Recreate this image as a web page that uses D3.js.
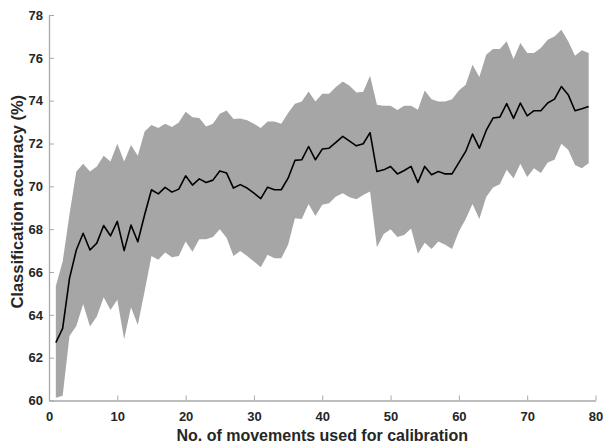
<!DOCTYPE html>
<html>
<head>
<meta charset="utf-8">
<script src="https://cdn.jsdelivr.net/npm/d3@7"></script>
<style>
  body { margin: 0; background: #fff; }
  svg { display: block; font-family: "Liberation Sans", Arial, sans-serif; }
</style>
</head>
<body>
<div id="chart"></div>
<script>
// number of movements used for calibration: 1..79
var movements = d3.range(1, 80);

// mean accuracy (%)
var meanAcc = [
  62.70, 63.37, 65.70, 67.03, 67.81, 67.03, 67.35, 68.17, 67.69, 68.36,
  67.00, 68.19, 67.41, 68.67, 69.84, 69.65, 69.95, 69.73, 69.87, 70.49,
  70.06, 70.35, 70.18, 70.29, 70.72, 70.62, 69.92, 70.08, 69.92, 69.68,
  69.43, 69.96, 69.84, 69.84, 70.38, 71.21, 71.24, 71.86, 71.24, 71.74,
  71.78, 72.05, 72.33, 72.11, 71.89, 71.99, 72.51, 70.69, 70.77, 70.93,
  70.58, 70.74, 70.93, 70.18, 70.93, 70.54, 70.69, 70.58, 70.58, 71.11,
  71.63, 72.44, 71.78, 72.61, 73.19, 73.23, 73.86, 73.17, 73.89, 73.29,
  73.53, 73.53, 73.89, 74.07, 74.66, 74.28, 73.53, 73.62, 73.73
];

// upper edge of shaded band
var upperAcc = [
  65.35, 66.49, 68.70, 70.69, 71.05, 70.69, 70.93, 71.43, 71.16, 71.99,
  71.16, 71.93, 71.43, 72.56, 72.86, 72.72, 72.92, 72.77, 72.98, 73.48,
  73.23, 73.19, 72.79, 72.92, 73.39, 73.54, 73.14, 73.17, 73.08, 72.92,
  72.72, 73.03, 73.03, 72.92, 73.42, 73.86, 73.96, 74.43, 73.96, 74.32,
  74.32, 74.64, 74.90, 74.70, 74.38, 74.42, 75.16, 73.81, 73.76, 73.76,
  73.57, 73.76, 73.76, 73.58, 74.48, 74.07, 73.96, 73.96, 74.07, 74.48,
  74.74, 75.68, 75.10, 76.14, 76.41, 76.41, 76.77, 75.94, 76.69, 76.22,
  76.22, 76.46, 76.85, 77.00, 77.31, 76.77, 76.10, 76.35, 76.22
];

// lower edge of shaded band
var lowerAcc = [
  60.13, 60.22, 63.01, 63.48, 64.51, 63.45, 63.92, 64.82, 64.23, 64.70,
  62.86, 64.35, 63.53, 65.10, 66.75, 66.57, 66.91, 66.69, 66.75, 67.42,
  66.95, 67.53, 67.53, 67.63, 68.00, 67.60, 66.75, 66.98, 66.75, 66.49,
  66.22, 66.80, 66.64, 66.64, 67.27, 68.51, 68.47, 69.18, 68.62, 69.14,
  69.21, 69.52, 69.68, 69.49, 69.40, 69.60, 69.76, 67.16, 67.78, 68.00,
  67.63, 67.73, 68.03, 66.85, 67.37, 67.07, 67.42, 67.27, 67.07, 67.89,
  68.47, 69.18, 68.47, 69.50, 69.94, 70.10, 70.77, 70.38, 71.05, 70.43,
  70.85, 70.62, 71.11, 71.24, 71.99, 71.71, 71.00, 70.85, 71.08
];

var xTicks = [0, 10, 20, 30, 40, 50, 60, 70, 80];
var yTicks = [60, 62, 64, 66, 68, 70, 72, 74, 76, 78];

function drawChart() {
  var width = 603, height = 443;
  var plotLeft = 49, plotRight = 595.5, plotTop = 15, plotBottom = 400.5;
  var axisGray = '#a8a8a8';
  var textDark = '#262626';

  var data = movements.map(function (m, i) {
    return { n: m, mean: meanAcc[i], hi: upperAcc[i], lo: lowerAcc[i] };
  });

  var x = d3.scaleLinear().domain([0, 80]).range([plotLeft, plotRight]);
  var y = d3.scaleLinear().domain([60, 78]).range([plotBottom, plotTop]);

  var svg = d3.select('#chart').append('svg')
    .attr('width', width)
    .attr('height', height);

  /* band */
  var area = d3.area()
    .x(d => x(d.n))
    .y0(d => y(d.lo))
    .y1(d => y(d.hi));

  svg.append('path')
    .datum(data)
    .attr('d', area)
    .attr('fill', '#a6a6a6');

  /* mean line */
  var line = d3.line()
    .x(d => x(d.n))
    .y(d => y(d.mean));

  svg.append('path')
    .datum(data)
    .attr('d', line)
    .attr('fill', 'none')
    .attr('stroke', '#000')
    .attr('stroke-width', 1.6)
    .attr('stroke-linejoin', 'round');

  /* axes, ticks pointing inward */
  var xAxis = d3.axisBottom(x).tickValues(xTicks).tickSizeInner(-5).tickSizeOuter(0).tickPadding(11);
  var yAxis = d3.axisLeft(y).tickValues(yTicks).tickSizeInner(-5).tickSizeOuter(0).tickPadding(6);

  var gx = svg.append('g')
    .attr('transform', `translate(0, ${plotBottom})`)
    .call(xAxis);
  var gy = svg.append('g')
    .attr('transform', `translate(${plotLeft}, 0)`)
    .call(yAxis);

  [gx, gy].forEach(function (g) {
    g.attr('font-size', 13).attr('font-family', null);
    g.select('.domain').attr('stroke', axisGray).attr('stroke-width', 1.3);
    g.selectAll('.tick line').attr('stroke', axisGray).attr('stroke-width', 1);
    g.selectAll('.tick text')
      .attr('fill', textDark)
      .attr('font-weight', 'bold');
  });

  /* axis titles */
  svg.append('text')
    .attr('x', (plotLeft + plotRight) / 2)
    .attr('y', 441)
    .attr('text-anchor', 'middle')
    .attr('font-size', 16)
    .attr('font-weight', 'bold')
    .attr('fill', textDark)
    .text('No. of movements used for calibration');

  svg.append('text')
    .attr('transform', `translate(23, ${(plotTop + plotBottom) / 2 - 6}) rotate(-90)`)
    .attr('text-anchor', 'middle')
    .attr('font-size', 16.5)
    .attr('font-weight', 'bold')
    .attr('fill', textDark)
    .text('Classification accuracy (%)');
}

drawChart();
</script>
</body>
</html>
